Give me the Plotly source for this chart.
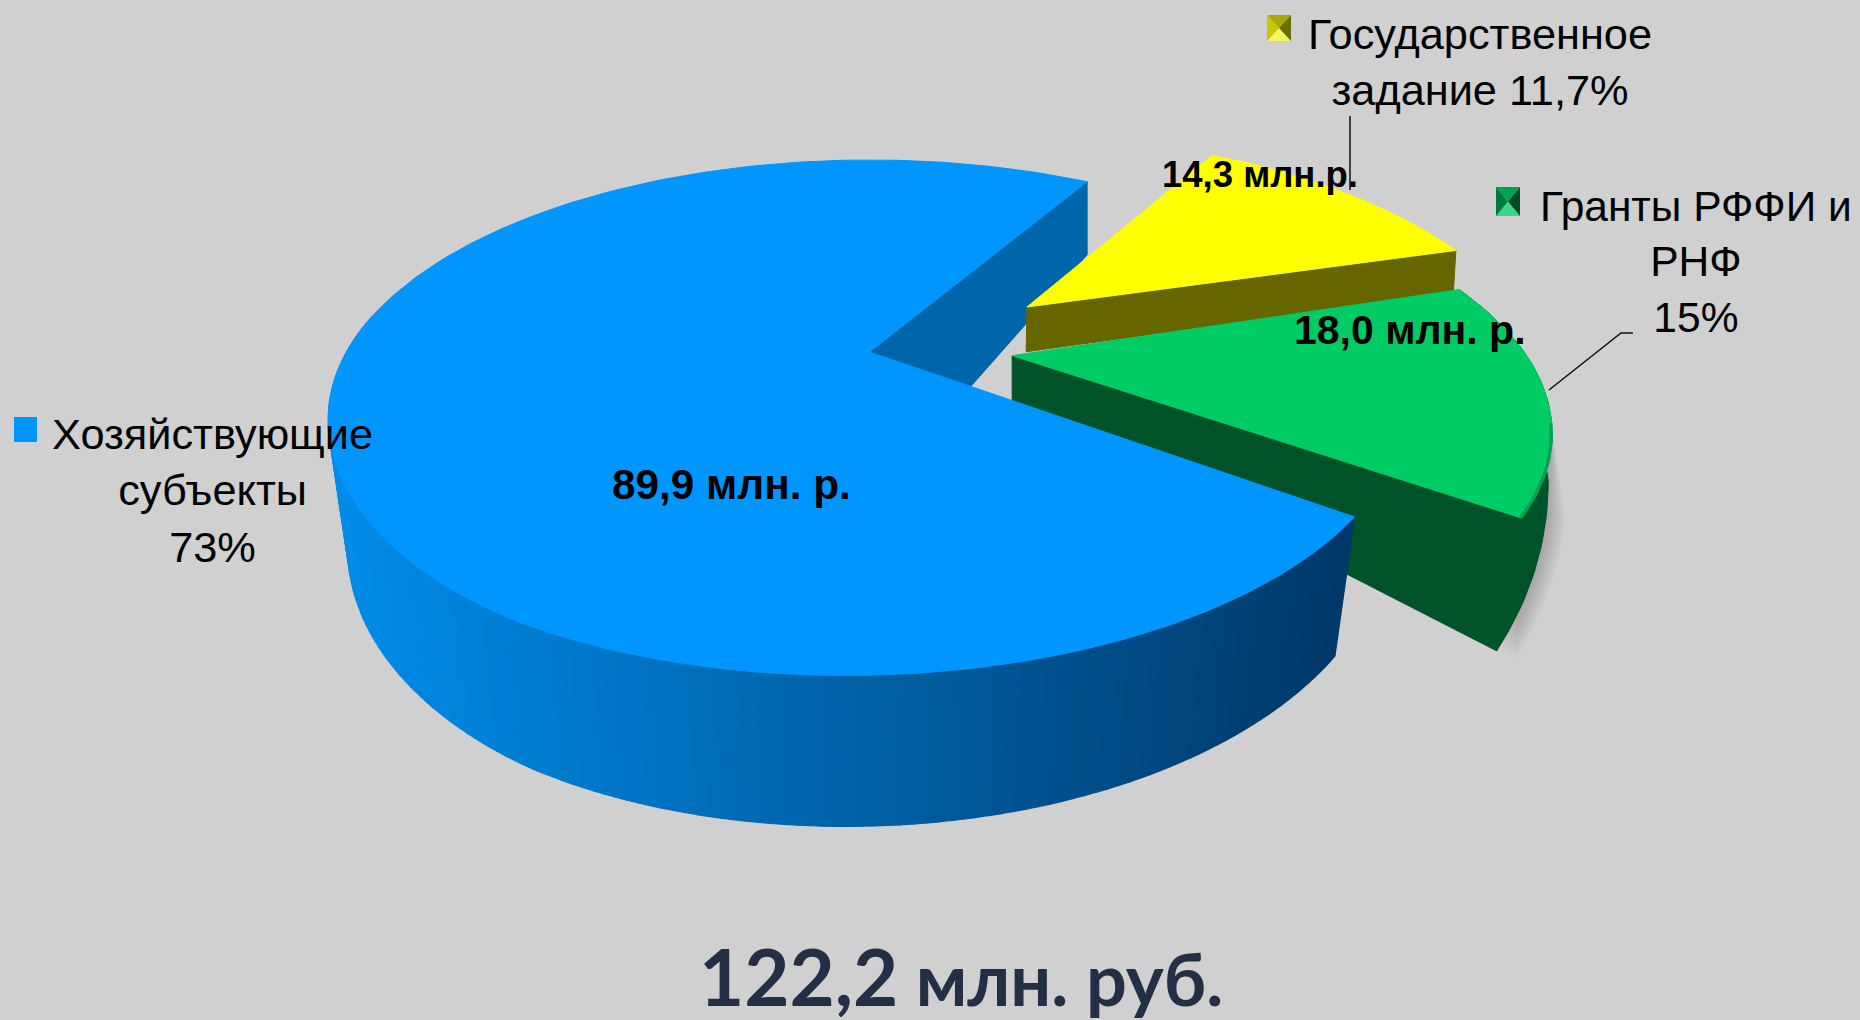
import math
import plotly.graph_objects as go

# ---- data ----
categories = ["Государственное задание", "Гранты РФФИ и РНФ", "Хозяйствующие субъекты"]
values_mln = [14.3, 18.0, 89.9]
value_labels = ["14,3 млн.р", "18,0 млн. р", "89,9 млн. р."]
share_labels = ["Государственное<br>задание 11,7%", "Гранты РФФИ и<br>РНФ<br>15%", "Хозяйствующие<br>субъекты<br>73%"]
total_label = "122,2"
total_unit = "млн. руб."

# ---- projection of the tilted pie ----
W, H = 1860, 1020
CX, CY, RX, RY, PERSP, SKEW = 869.5, 352.0, 523.0, 241.0, 0.255, 24.0
START = 59.5
BG = "#d0d0d0"

def shift(x, y, skew):
    return skew * min(y, 0) * max(0.0, min(1.0, (x + 1) / 0.5))

def top(x, y, skew=SKEW):
    w = 1 + PERSP * y
    return CX + RX * x / w + shift(x, y, skew), CY - RY * y / w

def bottom(x, y, d0, d1=0.0, deep=0.035, skew=SKEW):
    w = 1 + PERSP * y + deep
    return CX + RX * x / w + shift(x, y, skew), CY - (RY * y - (d0 + d1 * y)) / w

def arc(a0, a1, dx, dy, n, r=1.0):
    out = []
    for i in range(n + 1):
        t = math.radians(a0 + (a1 - a0) * i / n)
        out.append((r * math.cos(t) + dx, r * math.sin(t) + dy))
    return out

def poly(fig, pts, color, lw=1.0):
    xs = [p[0] for p in pts] + [pts[0][0]]
    ys = [p[1] for p in pts] + [pts[0][1]]
    fig.add_trace(go.Scatter(x=xs, y=ys, mode="lines", fill="toself", fillcolor=color,
                             line=dict(color=color, width=lw), hoverinfo="skip", showlegend=False))

def mix(c0, c1, t):
    t = max(0, min(1, t))
    return "rgb(%d,%d,%d)" % tuple(round(a + (b - a) * t) for a, b in zip(c0, c1))

total = sum(values_mln)
sweeps = [v / total * 360 for v in values_mln]
yel = (START - sweeps[0], START)
grn = (yel[0] - sweeps[1], yel[0])
blu = (START, START + sweeps[2])

OFF_Y = (0.316, 0.196)
OFF_G = (0.272, -0.015)
D_B = 129.0
D_G = (45.0, -133.0)
D_Y = 47.0
SKEW_G = 8.0

def green_top(q):
    return top(q[0], q[1], SKEW_G)

def green_bottom(q):
    return bottom(q[0], q[1], D_G[0], D_G[1], max(0.0, -0.0875 * (q[1] + 0.2)), SKEW_G)

fig = go.Figure()

# blue: inner cut face seen behind the gap
p = arc(START, START, 0, 0, 1)[0]
poly(fig, [top(0, 0), top(*p), bottom(p[0], p[1], 89.0, 0.0, 0.0), (CX, CY + 149)], "#0066aa")

# yellow slice
ya = arc(yel[0] - 1, yel[1] - 1, *OFF_Y, 40, 0.98)
yc = OFF_Y
ye = ya[0]
poly(fig, [top(*yc), top(*ye), bottom(*ye, D_Y, 0.0, 0.005), bottom(*yc, D_Y, 0.0, 0.005)], "#666600")
poly(fig, [top(*yc)] + [top(*q) for q in ya], "#ffff00")

# green slice: soft shadow, rim, cut face, top
ga = arc(grn[0], grn[1], *OFF_G, 50, 0.98)
gc = OFF_G
rim_b = [green_bottom(q) for q in ga]
rim_t = [green_top(q) for q in ga]
for k in range(1, 8):
    s = [(x + 2.6 * k, y + 1.2 * k) for x, y in rim_b[:20]]
    poly(fig, s + rim_t[:20][::-1], "rgba(0,0,0,0.028)", 0)
poly(fig, rim_t + rim_b[::-1], "#005228")
poly(fig, [green_top(gc), green_top(ga[0]), green_bottom(ga[0]), green_bottom(gc)], "#005228")
poly(fig, [green_top(gc)] + rim_t, "#00cc66")
bev = rim_t[:20]
fig.add_trace(go.Scatter(x=[q[0] - 1 for q in bev], y=[q[1] - 1 for q in bev], mode="lines",
                         line=dict(color="#00a050", width=3), hoverinfo="skip", showlegend=False))

# blue slice: rim strips shaded across the picture, then the top
ba = arc(blu[0], blu[1], 0, 0, 240)
LEFT, RIGHT = (0, 140, 232), (0, 56, 104)
for q0, q1 in zip(ba[:-1], ba[1:]):
    if q0[1] > 0.15 and q1[1] > 0.15:
        continue
    a, b, c, d = top(*q0), top(*q1), bottom(*q1, D_B), bottom(*q0, D_B)
    col = mix(LEFT, RIGHT, ((a[0] + d[0]) / 2 - 340) / (1340 - 340))
    poly(fig, [a, b, c, d], col, 1.2)
poly(fig, [top(0, 0)] + [top(*q) for q in ba], "#0096ff")

# leader lines
fig.add_trace(go.Scatter(x=[1350, 1350], y=[116, 190], mode="lines",
                         line=dict(color="#111111", width=1.5), hoverinfo="skip", showlegend=False))
fig.add_trace(go.Scatter(x=[1549, 1621, 1633], y=[390, 333, 333], mode="lines",
                         line=dict(color="#111111", width=1.5), hoverinfo="skip", showlegend=False))

# legend keys
def key(x0, y0, x1, y1, side, mid, lite):
    xm, ym = (x0 + x1) / 2, (y0 + y1) / 2
    poly(fig, [(x0, y0), (x1, y0), (xm, ym)], mid, 0)
    poly(fig, [(x0, y1), (x1, y1), (xm, ym)], lite, 0)
    poly(fig, [(x0, y0), (x0, y1), (xm, ym)], side[0], 0)
    poly(fig, [(x1, y0), (x1, y1), (xm, ym)], side[1], 0)

key(1267, 15, 1291, 41, ("#c8c800", "#6e6e00"), "#a8a800", "#f6f660")
key(1496, 187, 1520, 216, ("#007a3c", "#004d26"), "#00a352", "#33d987")
poly(fig, [(14, 417), (37, 417), (37, 442), (14, 442)], "#0096ff", 0)

# texts
FONT = "Liberation Sans"
def label(x, y, text, size, color="#000000", family=FONT, bold=False):
    t = "<b>%s</b>" % text if bold else text
    fig.add_annotation(x=x, y=y, xref="x", yref="y", text=t, showarrow=False, align="center",
                       xanchor="center", yanchor="middle", font=dict(family=family, size=size, color=color))

label(1480, 62, share_labels[0], 43.3)
label(1696, 262, share_labels[1], 42.5)
label(212, 490, share_labels[2], 43.3)
label(1260, 174, value_labels[0] + ".", 36.5, bold=True)
label(1410, 330, value_labels[1] + ".", 41, bold=True)
label(731, 484, value_labels[2], 42.3, bold=True)
fig.add_annotation(x=961, y=976, xref="x", yref="y", showarrow=False, xanchor="center", yanchor="middle",
                   text='<b><span style="font-size:78px">%s</span> %s</b>' % (total_label, total_unit),
                   font=dict(family="Lato", size=72, color="#232f45"))

fig.update_layout(width=W, height=H, margin=dict(l=0, r=0, t=0, b=0), paper_bgcolor=BG, plot_bgcolor=BG,
                  showlegend=False,
                  xaxis=dict(range=[0, W], visible=False, fixedrange=True),
                  yaxis=dict(range=[H, 0], visible=False, fixedrange=True))
fig.write_html("out.html", config={"displayModeBar": False},
               post_script="document.body.style.margin='0';document.documentElement.style.overflow='hidden';")
